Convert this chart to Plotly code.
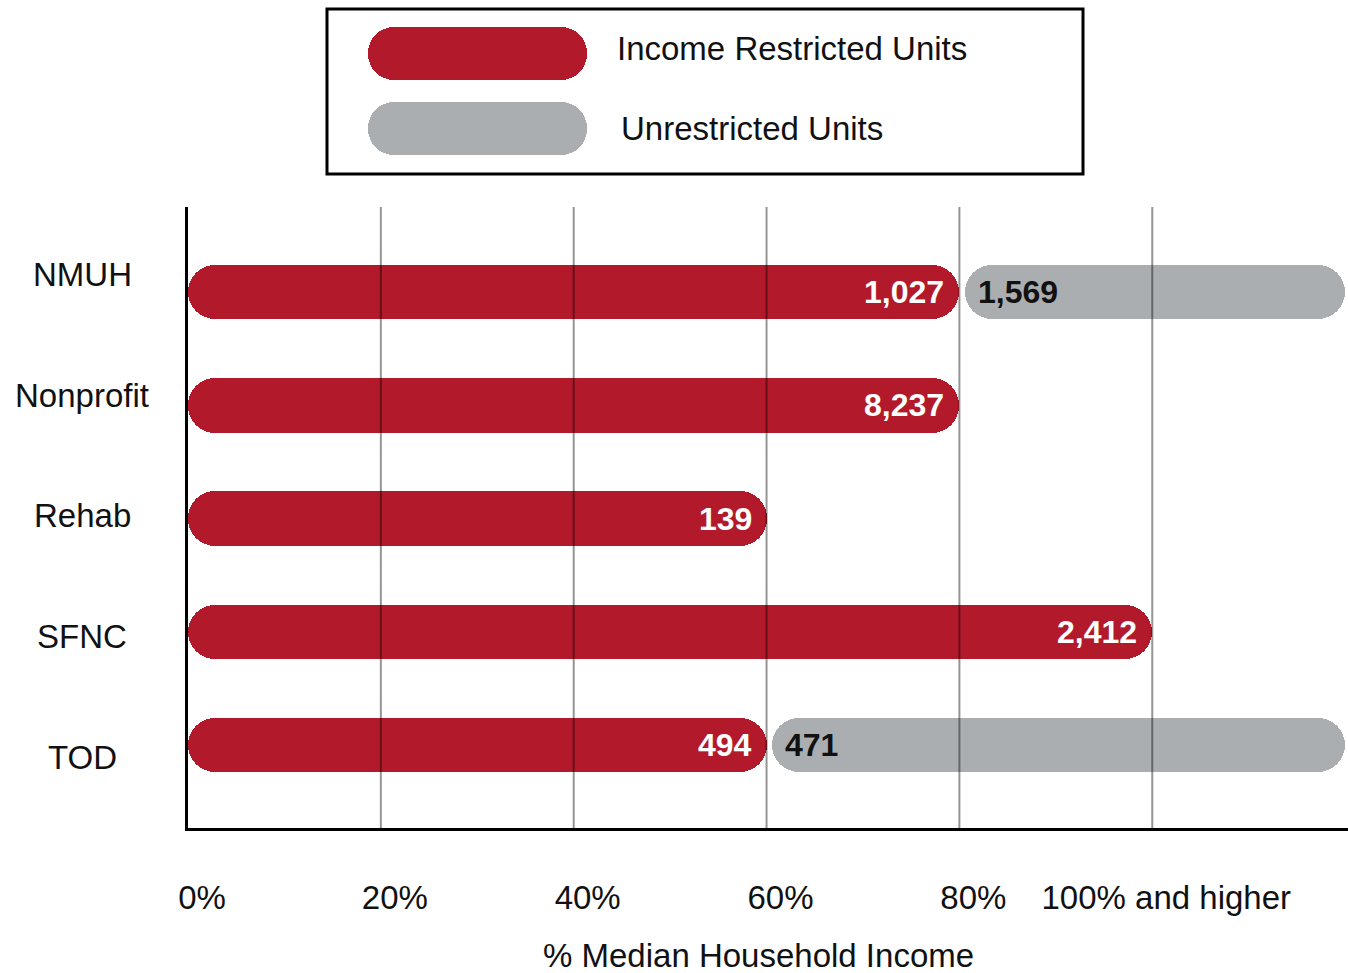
import plotly.graph_objects as go

# ---------------- data ----------------
categories = ["NMUH", "Nonprofit", "Rehab", "SFNC", "TOD"]
restricted_units = [1027, 8237, 139, 2412, 494]
restricted_max_pct = [80, 80, 60, 100, 60]          # income limit (% of median household income)
unrestricted_units = [1569, None, None, None, 471]
tick_values = [0, 20, 40, 60, 80, 100]
tick_labels = ["0%", "20%", "40%", "60%", "80%", "100% and higher"]
open_band_end = 120                                  # where the "100% and higher" band is drawn to
legend_labels = ["Income Restricted Units", "Unrestricted Units"]

# ---------------- style ----------------
RED = "#b21a2b"
GRAY = "#abaeb0"
W, H = 1348, 973
FONT = "Liberation Sans, Arial, Helvetica, sans-serif"
FS = 33
GAP = 0.6            # visual gap between segments (axis units)
PLOT_L, PLOT_TOP, PLOT_BOT = 188, 207, 828
PAPER_H = PLOT_BOT    # margin t=0, b = H - PLOT_BOT


def py(pix):
    """pixel row -> paper y"""
    return (PAPER_H - pix) / PAPER_H


def add_pill(fig, y, start, end, color, xa, ya, width):
    # a bar with an explicit base is rounded at both ends
    fig.add_trace(go.Bar(
        orientation="h", y=[y], x=[end - start], base=[start], width=width,
        marker=dict(color=color, cornerradius="50%", line=dict(width=0)),
        xaxis=xa, yaxis=ya, showlegend=False, hoverinfo="skip",
    ))


fig = go.Figure()

annotations = []
for cat, n_r, pmax, n_u in zip(categories, restricted_units, restricted_max_pct, unrestricted_units):
    add_pill(fig, cat, 0, pmax, RED, "x", "y", 0.48)
    annotations.append(dict(x=pmax, y=cat, xref="x", yref="y", xanchor="right", yanchor="middle",
                            xshift=-13, text=f"<b>{n_r:,}</b>", showarrow=False,
                            font=dict(family=FONT, size=FS - 1, color="white")))
    if n_u is not None:
        add_pill(fig, cat, pmax + GAP, open_band_end, GRAY, "x", "y", 0.48)
        annotations.append(dict(x=pmax + GAP, y=cat, xref="x", yref="y", xanchor="left", yanchor="middle",
                                xshift=11, text=f"<b>{n_u:,}</b>", showarrow=False,
                                font=dict(family=FONT, size=FS - 1, color="#111111")))
    # category names sit on an evenly spaced label axis (y3)
    annotations.append(dict(x=82 / W, y=cat, xref="paper", yref="y3", xanchor="center", yanchor="middle",
                            text=cat, showarrow=False, font=dict(family=FONT, size=FS, color="#111111")))

# legend pills on their own small axes
for lab, col in zip(legend_labels, [RED, GRAY]):
    add_pill(fig, lab, 0, 1, col, "x2", "y2", 0.711)
annotations.append(dict(x=615 / W, y=legend_labels[0], xref="paper", yref="y2", xanchor="left", yanchor="middle",
                        yshift=5, text=legend_labels[0], showarrow=False,
                        font=dict(family=FONT, size=FS, color="#111111")))
annotations.append(dict(x=619 / W, y=legend_labels[1], xref="paper", yref="y2", xanchor="left", yanchor="middle",
                        text=legend_labels[1], showarrow=False,
                        font=dict(family=FONT, size=FS, color="#111111")))

# axis title
annotations.append(dict(x=758 / W, y=py(955), xref="paper", yref="paper", xanchor="center", yanchor="middle",
                        text="% Median Household Income", showarrow=False,
                        font=dict(family=FONT, size=FS, color="#111111")))

shapes = []
for v in tick_values[1:]:
    shapes.append(dict(type="line", xref="x", yref="y domain", x0=v, x1=v, y0=0, y1=1,
                       line=dict(color="rgba(0,0,0,0.42)", width=2), layer="above"))
# legend frame
shapes.append(dict(type="rect", xref="paper", yref="paper",
                   x0=327 / W, x1=1083 / W, y0=py(174), y1=py(9),
                   line=dict(color="black", width=3), fillcolor="rgba(0,0,0,0)", layer="below"))

plot_dom = [0, (PLOT_BOT - PLOT_TOP) / PAPER_H]
fig.update_layout(
    width=W, height=H,
    margin=dict(l=0, r=0, t=0, b=H - PLOT_BOT, pad=0, autoexpand=False),
    paper_bgcolor="white", plot_bgcolor="white",
    barmode="overlay", bargap=0,
    showlegend=False,
    font=dict(family=FONT, size=FS, color="#111111"),
    xaxis=dict(domain=[PLOT_L / W, 1], range=[0, open_band_end + 0.3], anchor="y", automargin=False,
               tickvals=tick_values, ticktext=tick_labels, ticks="", showgrid=False, zeroline=False,
               showline=True, linecolor="black", linewidth=3, ticklabelstandoff=38, ticklabelshift=14,
               tickfont=dict(family=FONT, size=FS, color="#111111"), fixedrange=True),
    yaxis=dict(domain=plot_dom, anchor="x", type="category", automargin=False,
               categoryorder="array", categoryarray=categories, range=[4.73, -0.75],
               showticklabels=False, ticks="", showgrid=False, zeroline=False,
               showline=True, linecolor="black", linewidth=3, fixedrange=True),
    yaxis3=dict(domain=plot_dom, overlaying="y", anchor="x", type="category", automargin=False,
                categoryorder="array", categoryarray=categories, range=[4.589, -0.564],
                visible=False, fixedrange=True),
    xaxis2=dict(domain=[368 / W, 587 / W], range=[0, 1], anchor="y2", visible=False,
                automargin=False, fixedrange=True),
    yaxis2=dict(domain=[py(155), py(27)], anchor="x2", type="category", automargin=False,
                categoryorder="array", categoryarray=legend_labels, range=[1.362, -0.356],
                visible=False, fixedrange=True),
    annotations=annotations,
    shapes=shapes,
)

fig.write_html("out.html", config={"displayModeBar": False},
               post_script="document.body.style.margin='0';")
